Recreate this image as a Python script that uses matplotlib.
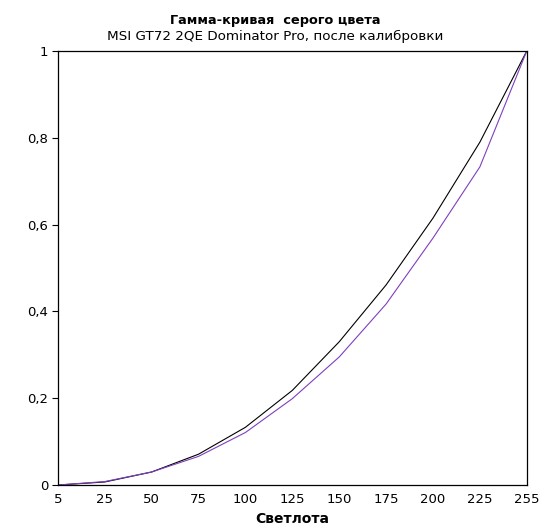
import matplotlib
matplotlib.use("Agg")
import matplotlib.pyplot as plt

levels = ["5", "25", "50", "75", "100", "125", "150", "175", "200", "225", "255"]
reference = [0.0, 0.007, 0.030, 0.071, 0.133, 0.218, 0.330, 0.461, 0.615, 0.790, 1.0]
measured = [0.0, 0.008, 0.030, 0.066, 0.121, 0.199, 0.295, 0.417, 0.569, 0.733, 1.0]

plt.rcParams["font.family"] = ["DejaVu Sans"]

fig = plt.figure(figsize=(5.51, 5.32), dpi=100)
ax = fig.add_axes([0.105, 0.0883, 0.851, 0.8158])

x = list(range(len(levels)))
ax.plot(x, reference, color="#000000", linewidth=0.8)
ax.plot(x, measured, color="#7f3fbf", linewidth=0.8)

ax.set_xlim(0, len(levels) - 1)
ax.set_ylim(0, 1)
ax.set_xticks(x)
ax.set_xticklabels(levels)
ax.set_yticks([0, 0.2, 0.4, 0.6, 0.8, 1.0])
ax.set_yticklabels(["0", "0,2", "0,4", "0,6", "0,8", "1"])
ax.tick_params(axis="x", length=0, labelsize=9.5, pad=6)
ax.tick_params(axis="y", length=4, width=0.8, labelsize=9.5, pad=3)
for s in ax.spines.values():
    s.set_linewidth(0.9)

ax.set_xlabel("Светлота", fontsize=10, fontweight="bold", labelpad=4)
fig.text(0.5, 0.962, "Гамма-кривая  серого цвета", ha="center", va="center",
         fontsize=9.3, fontweight="bold")
fig.text(0.5, 0.931, "MSI GT72 2QE Dominator Pro, после калибровки", ha="center",
         va="center", fontsize=9.7)

fig.savefig("out.png", dpi=100)
